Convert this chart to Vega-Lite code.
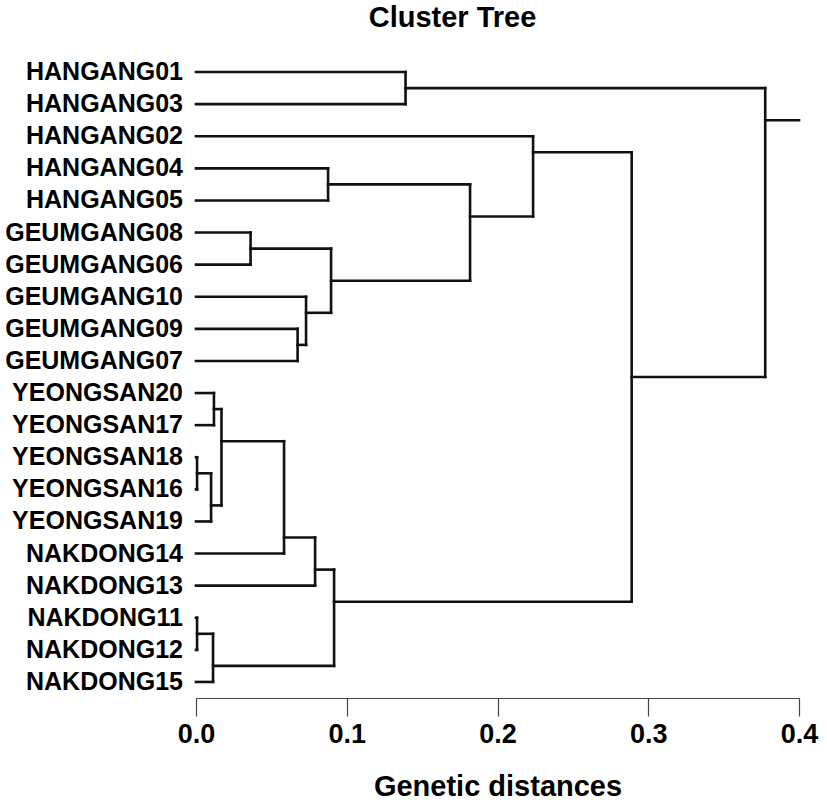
{
  "$schema": "https://vega.github.io/schema/vega-lite/v6.json",
  "autosize": "none",
  "padding": {"left": 196, "top": 56, "right": 28, "bottom": 105},
  "width": 603,
  "height": 642,
  "background": "white",
  "config": {"view": {"stroke": null}, "font": "Liberation Sans"},
  "title": {"text": "Cluster Tree", "fontSize": 29, "font": "Liberation Sans", "fontWeight": "bold", "color": "black", "anchor": "middle", "dx": -45, "offset": -6, "baseline": "bottom", "frame": "group"},
  "datasets": {
    "segments": [
      {"x": 0, "x2": 0.139, "y": 0, "y2": 0},
      {"x": 0, "x2": 0.139, "y": 1, "y2": 1},
      {"x": 0, "x2": 0.2236, "y": 2, "y2": 2},
      {"x": 0, "x2": 0.0876, "y": 3, "y2": 3},
      {"x": 0, "x2": 0.0876, "y": 4, "y2": 4},
      {"x": 0, "x2": 0.0362, "y": 5, "y2": 5},
      {"x": 0, "x2": 0.0362, "y": 6, "y2": 6},
      {"x": 0, "x2": 0.073, "y": 7, "y2": 7},
      {"x": 0, "x2": 0.0674, "y": 8, "y2": 8},
      {"x": 0, "x2": 0.0674, "y": 9, "y2": 9},
      {"x": 0, "x2": 0.0119, "y": 10, "y2": 10},
      {"x": 0, "x2": 0.0119, "y": 11, "y2": 11},
      {"x": 0, "x2": 0.0007, "y": 12, "y2": 12},
      {"x": 0, "x2": 0.0007, "y": 13, "y2": 13},
      {"x": 0, "x2": 0.01, "y": 14, "y2": 14},
      {"x": 0, "x2": 0.0584, "y": 15, "y2": 15},
      {"x": 0, "x2": 0.079, "y": 16, "y2": 16},
      {"x": 0, "x2": 0.0007, "y": 17, "y2": 17},
      {"x": 0, "x2": 0.0007, "y": 18, "y2": 18},
      {"x": 0, "x2": 0.0113, "y": 19, "y2": 19},
      {"x": 0.139, "x2": 0.139, "y": 0, "y2": 1},
      {"x": 0.0876, "x2": 0.0876, "y": 3, "y2": 4},
      {"x": 0.0362, "x2": 0.0362, "y": 5, "y2": 6},
      {"x": 0.0674, "x2": 0.0674, "y": 8, "y2": 9},
      {"x": 0.073, "x2": 0.073, "y": 7, "y2": 8.5},
      {"x": 0.0896, "x2": 0.0896, "y": 5.5, "y2": 7.5},
      {"x": 0.1818, "x2": 0.1818, "y": 3.5, "y2": 6.5},
      {"x": 0.2236, "x2": 0.2236, "y": 2, "y2": 4.5},
      {"x": 0.0119, "x2": 0.0119, "y": 10, "y2": 11},
      {"x": 0.0007, "x2": 0.0007, "y": 12, "y2": 13},
      {"x": 0.01, "x2": 0.01, "y": 12.5, "y2": 14},
      {"x": 0.0169, "x2": 0.0169, "y": 10.5, "y2": 13.5},
      {"x": 0.0584, "x2": 0.0584, "y": 11.5, "y2": 15},
      {"x": 0.079, "x2": 0.079, "y": 14.5, "y2": 16},
      {"x": 0.0007, "x2": 0.0007, "y": 17, "y2": 18},
      {"x": 0.0113, "x2": 0.0113, "y": 17.5, "y2": 19},
      {"x": 0.0916, "x2": 0.0916, "y": 15.5, "y2": 18.5},
      {"x": 0.289, "x2": 0.289, "y": 2.5, "y2": 16.5},
      {"x": 0.3776, "x2": 0.3776, "y": 0.5, "y2": 9.5},
      {"x": 0.139, "x2": 0.3776, "y": 0.5, "y2": 0.5},
      {"x": 0.0876, "x2": 0.1818, "y": 3.5, "y2": 3.5},
      {"x": 0.0362, "x2": 0.0896, "y": 5.5, "y2": 5.5},
      {"x": 0.0674, "x2": 0.073, "y": 8.5, "y2": 8.5},
      {"x": 0.073, "x2": 0.0896, "y": 7.5, "y2": 7.5},
      {"x": 0.0896, "x2": 0.1818, "y": 6.5, "y2": 6.5},
      {"x": 0.1818, "x2": 0.2236, "y": 4.5, "y2": 4.5},
      {"x": 0.2236, "x2": 0.289, "y": 2.5, "y2": 2.5},
      {"x": 0.0119, "x2": 0.0169, "y": 10.5, "y2": 10.5},
      {"x": 0.0007, "x2": 0.01, "y": 12.5, "y2": 12.5},
      {"x": 0.01, "x2": 0.0169, "y": 13.5, "y2": 13.5},
      {"x": 0.0169, "x2": 0.0584, "y": 11.5, "y2": 11.5},
      {"x": 0.0584, "x2": 0.079, "y": 14.5, "y2": 14.5},
      {"x": 0.079, "x2": 0.0916, "y": 15.5, "y2": 15.5},
      {"x": 0.0007, "x2": 0.0113, "y": 17.5, "y2": 17.5},
      {"x": 0.0113, "x2": 0.0916, "y": 18.5, "y2": 18.5},
      {"x": 0.0916, "x2": 0.289, "y": 16.5, "y2": 16.5},
      {"x": 0.289, "x2": 0.3776, "y": 9.5, "y2": 9.5},
      {"x": 0.3776, "x2": 0.4, "y": 1.5, "y2": 1.5}
    ],
    "leaves": [
      {"name": "HANGANG01", "i": 0},
      {"name": "HANGANG03", "i": 1},
      {"name": "HANGANG02", "i": 2},
      {"name": "HANGANG04", "i": 3},
      {"name": "HANGANG05", "i": 4},
      {"name": "GEUMGANG08", "i": 5},
      {"name": "GEUMGANG06", "i": 6},
      {"name": "GEUMGANG10", "i": 7},
      {"name": "GEUMGANG09", "i": 8},
      {"name": "GEUMGANG07", "i": 9},
      {"name": "YEONGSAN20", "i": 10},
      {"name": "YEONGSAN17", "i": 11},
      {"name": "YEONGSAN18", "i": 12},
      {"name": "YEONGSAN16", "i": 13},
      {"name": "YEONGSAN19", "i": 14},
      {"name": "NAKDONG14", "i": 15},
      {"name": "NAKDONG13", "i": 16},
      {"name": "NAKDONG11", "i": 17},
      {"name": "NAKDONG12", "i": 18},
      {"name": "NAKDONG15", "i": 19}
    ]
  },
  "layer": [
    {
      "data": {"name": "segments"},
      "mark": {"type": "rule", "color": "#111111", "strokeWidth": 2.6, "strokeCap": "square"},
      "encoding": {
        "x": {"field": "x", "type": "quantitative", "scale": {"domain": [0, 0.4], "nice": false, "zero": false},
          "axis": {"title": "Genetic distances", "values": [0, 0.1, 0.2, 0.3, 0.4], "format": ".1f", "grid": false,
            "domainColor": "#444444", "domainWidth": 1.2, "tickColor": "#444444", "tickWidth": 1.2, "tickSize": 18,
            "labelFont": "Liberation Sans", "labelFontSize": 27, "labelFontWeight": "bold", "labelColor": "black", "labelPadding": 5, "labelFlush": false,
            "titleFont": "Liberation Sans", "titleFontSize": 29, "titleFontWeight": "bold", "titleColor": "black", "titlePadding": 25}},
        "x2": {"field": "x2"},
        "y": {"field": "y", "type": "quantitative", "scale": {"domain": [-0.5, 19.5], "reverse": true, "nice": false, "zero": false}, "axis": null},
        "y2": {"field": "y2"}
      }
    },
    {
      "data": {"name": "leaves"},
      "mark": {"type": "text", "align": "right", "baseline": "middle", "dx": -13, "font": "Liberation Sans", "fontSize": 25, "fontWeight": "bold", "color": "black"},
      "encoding": {
        "x": {"datum": 0, "type": "quantitative"},
        "y": {"field": "i", "type": "quantitative"},
        "text": {"field": "name"}
      }
    }
  ]
}
